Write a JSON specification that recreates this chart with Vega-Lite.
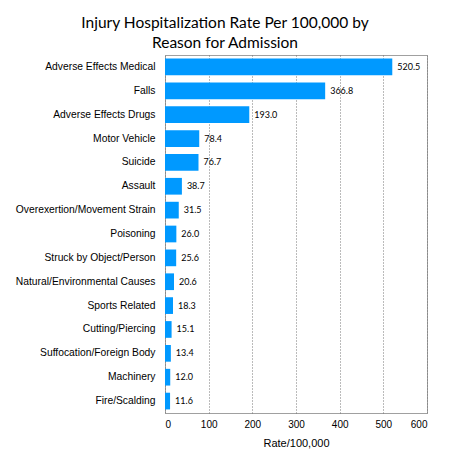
{
  "$schema": "https://vega.github.io/schema/vega-lite/v6.json",
  "width": 262,
  "height": 358,
  "autosize": "none",
  "padding": {"left": 165, "top": 55, "right": 23, "bottom": 60},
  "background": "white",
  "title": {
    "text": ["Injury Hospitalization Rate Per 100,000 by", "Reason for Admission"],
    "font": "Lato",
    "fontSize": 15.5,
    "fontWeight": "normal",
    "color": "#000000",
    "anchor": "middle",
    "frame": "group",
    "dx": -71,
    "offset": 4,
    "lineHeight": 20
  },
  "data": {
    "values": [
      {"reason": "Adverse Effects Medical", "rate": 520.5},
      {"reason": "Falls", "rate": 366.8},
      {"reason": "Adverse Effects Drugs", "rate": 193.0},
      {"reason": "Motor Vehicle", "rate": 78.4},
      {"reason": "Suicide", "rate": 76.7},
      {"reason": "Assault", "rate": 38.7},
      {"reason": "Overexertion/Movement Strain", "rate": 31.5},
      {"reason": "Poisoning", "rate": 26.0},
      {"reason": "Struck by Object/Person", "rate": 25.6},
      {"reason": "Natural/Environmental Causes", "rate": 20.6},
      {"reason": "Sports Related", "rate": 18.3},
      {"reason": "Cutting/Piercing", "rate": 15.1},
      {"reason": "Suffocation/Foreign Body", "rate": 13.4},
      {"reason": "Machinery", "rate": 12.0},
      {"reason": "Fire/Scalding", "rate": 11.6}
    ]
  },
  "encoding": {
    "y": {
      "field": "reason",
      "type": "nominal",
      "sort": null,
      "title": null,
      "scale": {"paddingInner": 0.3, "paddingOuter": 0.15},
      "axis": {
        "ticks": false,
        "domain": false,
        "labelFont": "Liberation Sans",
        "labelFontSize": 10.3,
        "labelColor": "#000000",
        "labelPadding": 10,
        "labelLimit": 200
      }
    },
    "x": {
      "field": "rate",
      "type": "quantitative",
      "title": "Rate/100,000",
      "scale": {"domain": [0, 600], "nice": false},
      "axis": {
        "values": [0, 100, 200, 300, 400, 500, 600],
        "ticks": false,
        "domain": false,
        "grid": true,
        "gridDash": [1, 2],
        "gridColor": "#777777",
        "labelFont": "Liberation Sans",
        "labelFontSize": 10,
        "labelColor": "#000000",
        "labelPadding": 6,
        "titleFont": "Liberation Sans",
        "titleFontSize": 11,
        "titleFontWeight": "normal",
        "titleColor": "#000000",
        "titlePadding": 8
      }
    }
  },
  "layer": [
    {"mark": {"type": "bar", "color": "#0099ff"}},
    {
      "mark": {"type": "text", "align": "left", "dx": 5, "font": "Lato", "fontSize": 9, "color": "#000000"},
      "encoding": {"text": {"field": "rate", "type": "quantitative", "format": ".1f"}}
    }
  ],
  "config": {
    "view": {"stroke": "#a0a0a0", "strokeWidth": 1}
  }
}
